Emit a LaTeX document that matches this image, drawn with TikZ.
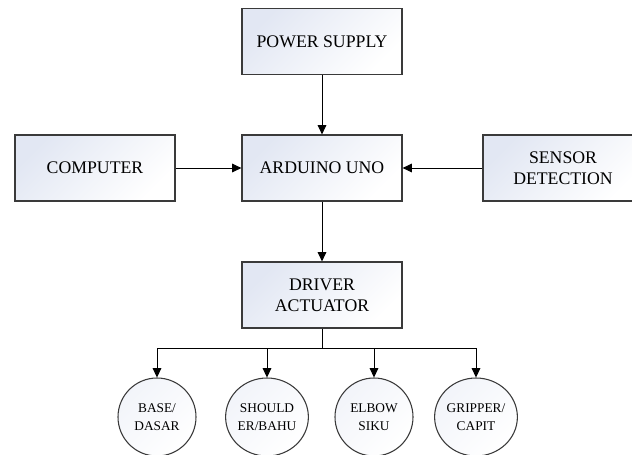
\documentclass[tikz,border=0pt]{standalone}
\usepackage{fontspec}
\setmainfont{Liberation Serif}
\usetikzlibrary{arrows.meta,shadings,shapes.geometric}
\definecolor{boxblue}{HTML}{E2E7F3}
\definecolor{edge}{HTML}{3A3A3A}
\tikzset{
  blockbox/.style={draw=edge, line width=0.9pt, top color=boxblue, bottom color=white, shading angle=45,
    minimum width=120pt, minimum height=49.5pt, inner sep=2pt, align=center,
    font=\fontsize{13.3}{16}\selectfont},
  jointnode/.style={draw=edge, line width=0.8pt, top color=boxblue!45, bottom color=white, shading angle=45,
    shape=ellipse, minimum width=58.5pt, minimum height=58.5pt, inner sep=0pt, align=center,
    font=\fontsize{10}{13.5}\selectfont},
  arr/.style={draw=black, line width=0.75pt, -{Triangle[length=7pt,width=6.5pt]}},
  plain/.style={draw=black, line width=0.75pt}
}
\begin{document}
\begin{tikzpicture}[x=0.75pt,y=-0.75pt]
\useasboundingbox (0,0) rectangle (632,454);
\node[blockbox] (ps) at (322,41.5) {POWER SUPPLY};
\node[blockbox] (ard) at (322,168) {ARDUINO UNO};
\node[blockbox] (comp) at (95,168) {COMPUTER};
\node[blockbox] (sens) at (563,168) {SENSOR\\DETECTION};
\node[blockbox] (drv) at (322,295) {DRIVER\\ACTUATOR};
\node[jointnode] (base) at (157,417) {BASE/\\DASAR};
\node[jointnode] (shoulder) at (267,417) {SHOULD\\ER/BAHU};
\node[jointnode] (elbow) at (374,417) {ELBOW\\SIKU};
\node[jointnode] (grip) at (476,417) {GRIPPER/\\CAPIT};
\coordinate (bus) at (322,348);
\draw[arr] (ps) -- (ard);
\draw[arr] (comp) -- (ard);
\draw[arr] (sens) -- (ard);
\draw[arr] (ard) -- (drv);
\draw[plain] (drv.south) -- (bus);
\draw[arr] (bus) -| (base.north);
\draw[arr] (bus) -| (shoulder.north);
\draw[arr] (bus) -| (elbow.north);
\draw[arr] (bus) -| (grip.north);
\end{tikzpicture}
\end{document}
